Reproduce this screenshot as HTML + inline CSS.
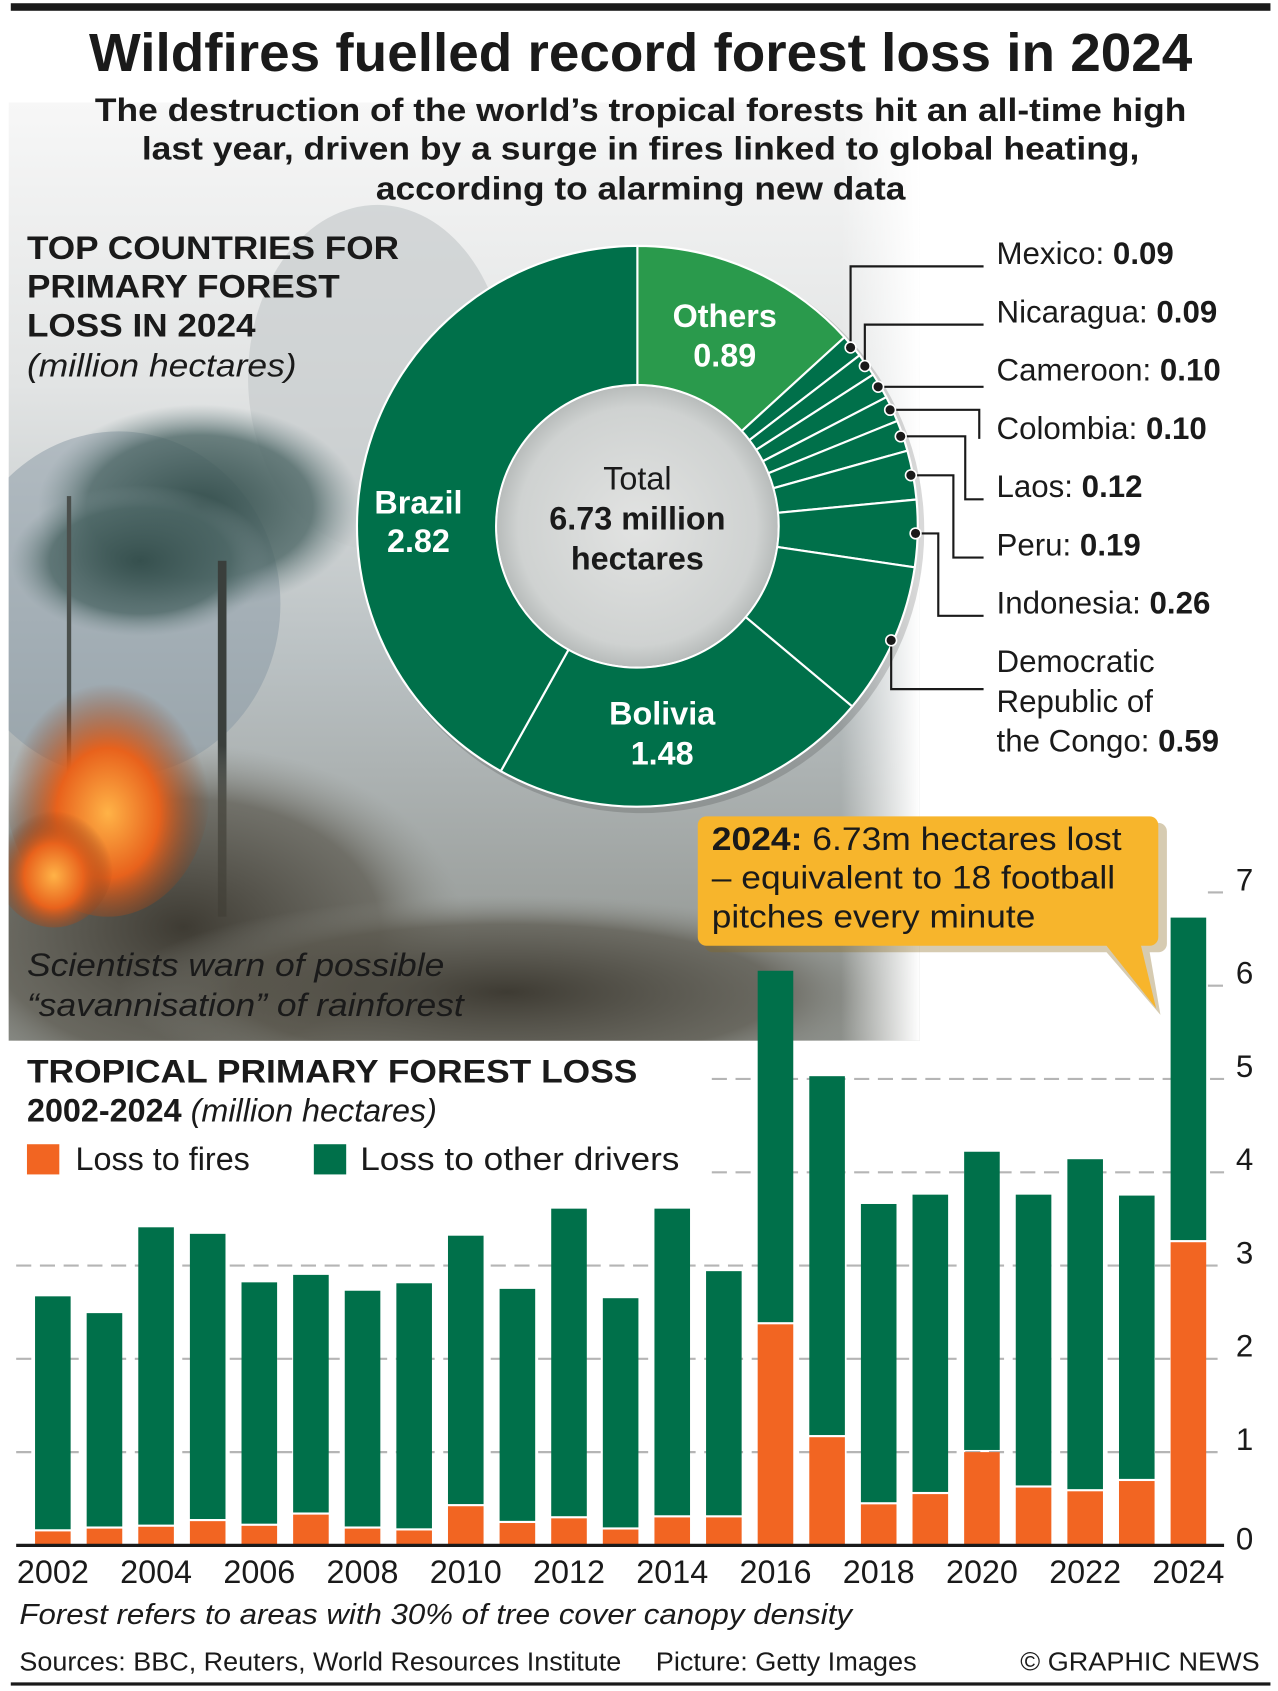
<!DOCTYPE html>
<html><head><meta charset="utf-8"><style>
html,body{margin:0;padding:0;background:#fff;}
svg{display:block;font-family:"Liberation Sans",Arial,sans-serif;}
</style></head><body>
<svg id="s" width="1278" height="1691" viewBox="0 0 1185 1568" preserveAspectRatio="none">
<defs>
<clipPath id="photoClip"><rect x="8" y="95" width="845" height="870"/></clipPath>
<linearGradient id="fadeR" x1="0" x2="1" y1="0" y2="0">
<stop offset="0" stop-color="#fff" stop-opacity="0"/><stop offset="0.75" stop-color="#fff" stop-opacity="0"/><stop offset="1" stop-color="#fff" stop-opacity="1"/></linearGradient>
<linearGradient id="sky" x1="0" x2="0" y1="0" y2="1">
<stop offset="0" stop-color="#f7f7f7"/><stop offset="0.3" stop-color="#e2e4e4"/><stop offset="0.6" stop-color="#b9c0c2"/><stop offset="1" stop-color="#8c8f8a"/></linearGradient>
<radialGradient id="fire" cx="0.5" cy="0.6" r="0.5"><stop offset="0" stop-color="#ffb347"/><stop offset="0.5" stop-color="#e8621c"/><stop offset="1" stop-color="#7a3a1a" stop-opacity="0"/></radialGradient>
<radialGradient id="canopy" cx="0.5" cy="0.5" r="0.5"><stop offset="0" stop-color="#36504e"/><stop offset="0.7" stop-color="#4d6766" stop-opacity="0.8"/><stop offset="1" stop-color="#7a8e90" stop-opacity="0"/></radialGradient>
<radialGradient id="ground" cx="0.5" cy="0.5" r="0.5"><stop offset="0" stop-color="#3e3b33"/><stop offset="0.7" stop-color="#5a574d" stop-opacity="0.7"/><stop offset="1" stop-color="#8a8c86" stop-opacity="0"/></radialGradient>
<radialGradient id="inner" cx="0.5" cy="0.5" r="0.5"><stop offset="0" stop-color="#e2e3e2"/><stop offset="0.85" stop-color="#cfd2d1"/><stop offset="1" stop-color="#b8bcbb"/></radialGradient>
</defs>

<g clip-path="url(#photoClip)">
<rect x="8" y="95" width="845" height="870" fill="url(#sky)"/>
<ellipse cx="350" cy="350" rx="120" ry="160" fill="#c7cccd" opacity="0.7"/>
<ellipse cx="110" cy="560" rx="150" ry="160" fill="#8898a4" opacity="0.5"/>
<ellipse cx="185" cy="470" rx="150" ry="95" fill="url(#canopy)"/>
<ellipse cx="130" cy="520" rx="120" ry="70" fill="url(#canopy)"/>
<rect x="202" y="520" width="8" height="330" fill="#3a3f3c"/>
<rect x="62" y="460" width="4" height="330" fill="#4a4f4c"/>
<ellipse cx="170" cy="860" rx="260" ry="170" fill="url(#ground)"/>
<ellipse cx="470" cy="920" rx="360" ry="90" fill="url(#ground)"/>
<ellipse cx="100" cy="730" rx="95" ry="120" fill="url(#fire)"/>
<ellipse cx="50" cy="800" rx="55" ry="60" fill="url(#fire)"/>
<rect x="560" y="95" width="293" height="870" fill="url(#fadeR)"/>
</g>

<rect x="10" y="3" width="1168" height="7" fill="#1a1a1a"/>
<text x="594" y="66" text-anchor="middle" font-size="50" font-weight="bold" fill="#1a1a1a" textLength="1023" lengthAdjust="spacingAndGlyphs">Wildfires fuelled record forest loss in 2024</text>
<g font-size="30" font-weight="bold" fill="#1a1a1a" text-anchor="middle">
<text x="594" y="112" textLength="1012" lengthAdjust="spacingAndGlyphs">The destruction of the world’s tropical forests hit an all-time high</text>
<text x="594" y="148" textLength="925" lengthAdjust="spacingAndGlyphs">last year, driven by a surge in fires linked to global heating,</text>
<text x="594" y="185" textLength="491" lengthAdjust="spacingAndGlyphs">according to alarming new data</text>
</g>

<g font-size="30" font-weight="bold" fill="#1a1a1a">
<text x="25" y="240" textLength="345" lengthAdjust="spacingAndGlyphs">TOP COUNTRIES FOR</text>
<text x="25" y="276" textLength="290" lengthAdjust="spacingAndGlyphs">PRIMARY FOREST</text>
<text x="25" y="312" textLength="212" lengthAdjust="spacingAndGlyphs">LOSS IN 2024</text>
<text x="25" y="349" font-weight="normal" font-style="italic" textLength="250" lengthAdjust="spacingAndGlyphs">(million hectares)</text>
</g>

<g id="donut"></g>
<g id="leaders"></g>

<g font-size="30" fill="#fff" font-weight="bold" text-anchor="middle">
<text x="672" y="303">Others</text><text x="672" y="340">0.89</text>
<text x="388" y="476">Brazil</text><text x="388" y="512">2.82</text>
<text x="614" y="672">Bolivia</text><text x="614" y="709">1.48</text>
</g>
<g font-size="30" fill="#1a1a1a" text-anchor="middle">
<text x="591" y="454">Total</text>
<text x="591" y="491" font-weight="bold">6.73 million</text>
<text x="591" y="528" font-weight="bold">hectares</text>
</g>

<g id="countryLabels" font-size="29" fill="#1a1a1a"></g>

<g id="grid"></g>
<g id="bars"></g>
<g id="yticks" font-size="29" fill="#1a1a1a"></g>
<g id="xticks" font-size="30" fill="#1a1a1a" text-anchor="middle"></g>

<g font-size="30" font-style="italic" fill="#1a1a1a">
<text x="25" y="905" textLength="387" lengthAdjust="spacingAndGlyphs">Scientists warn of possible</text>
<text x="25" y="942" textLength="405" lengthAdjust="spacingAndGlyphs">“savannisation” of rainforest</text>
</g>

<g font-size="30" fill="#1a1a1a">
<text x="25" y="1004" font-weight="bold" textLength="566" lengthAdjust="spacingAndGlyphs">TROPICAL PRIMARY FOREST LOSS</text>
<text x="25" y="1040"><tspan font-weight="bold">2002-2024</tspan><tspan font-style="italic"> (million hectares)</tspan></text>
</g>
<g font-size="30" fill="#1a1a1a">
<rect x="25" y="1061" width="30" height="28" fill="#f26522"/>
<text x="70" y="1085">Loss to fires</text>
<rect x="291" y="1061" width="30" height="28" fill="#00704a"/>
<text x="334" y="1085" textLength="296" lengthAdjust="spacingAndGlyphs">Loss to other drivers</text>
</g>

<g>
<path d="M651,763 h423 a8,8 0 0 1 8,8 v104 a8,8 0 0 1 -8,8 h-8 l10,58 l-50,-58 h-365 a8,8 0 0 1 -8,-8 v-104 a8,8 0 0 1 8,-8z" fill="#8a6a20" opacity="0.35"/>
<path d="M655,757 h411 a8,8 0 0 1 8,8 v104 a8,8 0 0 1 -8,8 h-8 l14,58 l-46,-58 h-371 a8,8 0 0 1 -8,-8 v-104 a8,8 0 0 1 8,-8z" fill="#f7b52c"/>
<g font-size="30" fill="#1a1a1a">
<text x="660" y="788" textLength="380" lengthAdjust="spacingAndGlyphs"><tspan font-weight="bold">2024:</tspan> 6.73m hectares lost</text>
<text x="660" y="824" textLength="374" lengthAdjust="spacingAndGlyphs">– equivalent to 18 football</text>
<text x="660" y="860" textLength="300" lengthAdjust="spacingAndGlyphs">pitches every minute</text>
</g>
</g>

<text x="18" y="1506" font-size="27" font-style="italic" fill="#1a1a1a" textLength="772" lengthAdjust="spacingAndGlyphs">Forest refers to areas with 30% of tree cover canopy density</text>
<g font-size="24" fill="#1a1a1a">
<text x="18" y="1549" textLength="558" lengthAdjust="spacingAndGlyphs">Sources: BBC, Reuters, World Resources Institute</text>
<text x="608" y="1549" textLength="242" lengthAdjust="spacingAndGlyphs">Picture: Getty Images</text>
<text x="1168" y="1549" text-anchor="end" textLength="222" lengthAdjust="spacingAndGlyphs">© GRAPHIC NEWS</text>
</g>
<rect x="10" y="1560" width="1168" height="3" fill="#1a1a1a"/>
</svg>
<script>
const NS='http://www.w3.org/2000/svg';
const countries=['Others','Mexico','Nicaragua','Cameroon','Colombia','Laos','Peru','Indonesia','Democratic Republic of the Congo','Bolivia','Brazil'];
const countryValues=[0.89,0.09,0.09,0.10,0.10,0.12,0.19,0.26,0.59,1.48,2.82];
const years=[2002,2003,2004,2005,2006,2007,2008,2009,2010,2011,2012,2013,2014,2015,2016,2017,2018,2019,2020,2021,2022,2023,2024];
const fireLoss=[0.15,0.18,0.20,0.26,0.21,0.33,0.18,0.16,0.42,0.24,0.29,0.17,0.30,0.30,2.37,1.16,0.44,0.55,1.00,0.62,0.58,0.69,3.25];
const totalLoss=[2.67,2.49,3.41,3.34,2.82,2.90,2.73,2.81,3.32,2.75,3.61,2.65,3.61,2.94,6.16,5.03,3.66,3.76,4.22,3.76,4.14,3.75,6.73];
const yTicks=[0,1,2,3,4,5,6,7];

function el(tag,attrs,parent){const e=document.createElementNS(NS,tag);for(const k in attrs)e.setAttribute(k,attrs[k]);parent.appendChild(e);return e;}

const cx=591,cy=488,R=260,r=131;
const total=countryValues.reduce((a,b)=>a+b,0);
const dg=document.getElementById('donut');
el('circle',{cx:cx+4,cy:cy+4,r:R+2,fill:'#000',opacity:0.15},dg);
let a0=0;
const mids=[];
countryValues.forEach((v,i)=>{
  const a1=a0+v/total*2*Math.PI;
  const p=(a,rad)=>[cx+rad*Math.sin(a),cy-rad*Math.cos(a)];
  const [x0,y0]=p(a0,R),[x1,y1]=p(a1,R),[x2,y2]=p(a1,r),[x3,y3]=p(a0,r);
  const large=(a1-a0)>Math.PI?1:0;
  const path=el('path',{d:`M${x0},${y0} A${R},${R} 0 ${large} 1 ${x1},${y1} L${x2},${y2} A${r},${r} 0 ${large} 0 ${x3},${y3}Z`,fill:i===0?'#2a9a4c':'#00704a',stroke:'#fff','stroke-width':2},dg);
  
  
  mids.push((a0+a1)/2);
  a0=a1;
});
const inner=el('circle',{cx:cx,cy:cy,r:r-1,fill:'url(#inner)'},dg);



const lg=document.getElementById('leaders');
const lbl=document.getElementById('countryLabels');
const labelY=[null,235,289,343,397,451,505,559,613];
const elbowX=[null,793,808,912,908,895,884,870,831];
for(let i=1;i<=8;i++){
  const a=mids[i];
  const dx=cx+(R-2)*Math.sin(a),dy=cy-(R-2)*Math.cos(a);
  const ly=labelY[i]+12;
  let d;
  if(i<=2) d=`M${dx},${dy} V${ly} H912`;
  else if(i===3) d=`M${dx},${dy} H912`;
  else if(i===4) d=`M${dx},${dy} H908 V${ly-2}`;
  else if(i===8) d=`M${dx},${dy} V${ly+14} H912`;
  else d=`M${dx},${dy} H${elbowX[i]} V${ly} H912`;
  const ln=el('path',{d:d,fill:'none',stroke:'#1a1a1a','stroke-width':2},lg);
  
  
  const dot=el('circle',{cx:dx,cy:dy,r:5,fill:'#1a1a1a',stroke:'#fff','stroke-width':1.5},lg);
  
  
  if(i<8){
    const t=el('text',{x:924,y:labelY[i]+10},lbl);
    
    
    t.innerHTML=countries[i]+': <tspan font-weight="bold">'+countryValues[i].toFixed(2)+'</tspan>';
  } else {
    ['Democratic','Republic of'].forEach((s,k)=>{const t=el('text',{x:924,y:labelY[i]+10+k*37},lbl);t.textContent=s;
      
      });
    const t=el('text',{x:924,y:labelY[i]+10+74},lbl);
    
    
    t.innerHTML='the Congo: <tspan font-weight="bold">'+countryValues[i].toFixed(2)+'</tspan>';
  }
}

const y0=1433,unit=86.5;
const yS=v=>y0-v*unit;
const xS=i=>49+i*47.86;
const bw=33;
const gg=document.getElementById('grid');
yTicks.forEach(t=>{
  if(t===0)return;
  let xs=15;
  if(t>=4)xs=660;
  if(t>=6)xs=1120;
  const g=el('line',{x1:xs,x2:1135,y1:yS(t),y2:yS(t),stroke:'#b5b5b5','stroke-width':2,'stroke-dasharray':'14,8'},gg);
  
  
  const tl=el('text',{x:1146,y:yS(t)-2},document.getElementById('yticks'));
  tl.textContent=t;
  
  
});
const z=el('text',{x:1146,y:y0+4},document.getElementById('yticks'));z.textContent='0';


const bg=document.getElementById('bars');
years.forEach((yr,i)=>{
  const x=xS(i)-bw/2;
  const b1=el('rect',{x:x,y:yS(fireLoss[i]),width:bw,height:fireLoss[i]*unit,fill:'#f26522'},bg);
  
  
  const b2=el('rect',{x:x,y:yS(totalLoss[i]),width:bw,height:(totalLoss[i]-fireLoss[i])*unit-2,fill:'#00704a'},bg);
  
  
  if(i%2===0){
    const t=el('text',{x:xS(i),y:1468},document.getElementById('xticks'));
    t.textContent=yr;
    
    
  }
});
const base=el('line',{x1:15,x2:1135,y1:y0,y2:y0,stroke:'#1a1a1a','stroke-width':3},bg);


</script>
</body></html>
